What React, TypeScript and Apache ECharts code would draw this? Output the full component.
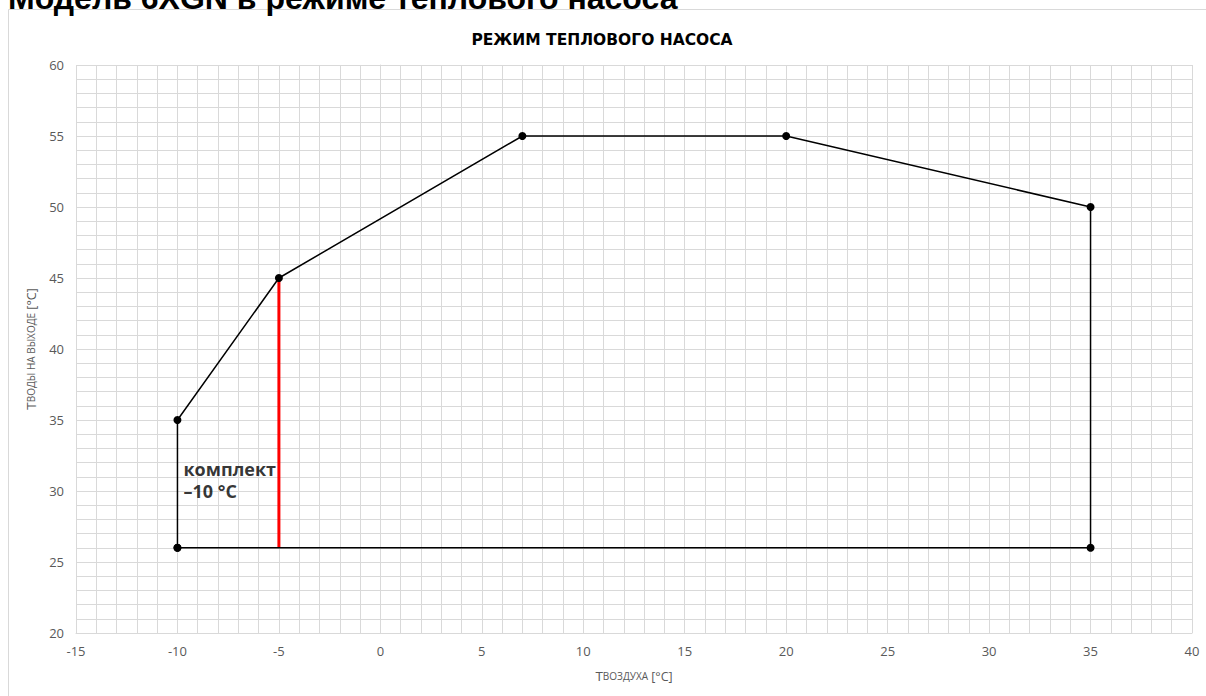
import React, { useEffect, useRef } from "react";
import * as echarts from "echarts";

const boundaryX = [-10, -10, -5, 7, 20, 35, 35, -10];
const boundaryY = [26, 35, 45, 55, 55, 50, 26, 26];
const kitX = [-5, -5];
const kitY = [26, 45];
const kitLabelPos = [-10, 30.8];
const kitLabel = "комплект\n–10 °C";
const pageTitle = "Модель 6XGN в режиме теплового насоса";
const chartTitle = "РЕЖИМ ТЕПЛОВОГО НАСОСА";
const labelStep = 5;

const FONT = "'Open Sans', 'Noto Sans', sans-serif";
const GRID = "#d9d9d9";
const LABEL = "#595959";

const every5 = (v: number) => (Math.round(v) % labelStep === 0 ? String(Math.round(v)) : "");

export default function App() {
  const ref = useRef<HTMLDivElement>(null);
  useEffect(() => {
    if (!ref.current) return;
    const chart = echarts.init(ref.current, undefined, { renderer: "svg" });
    const boundary = boundaryX.map((x, i) => [x, boundaryY[i]]);
    const kit = kitX.map((x, i) => [x, kitY[i]]);
    chart.setOption({
      animation: false,
      backgroundColor: "#ffffff",
      title: {
        text: chartTitle,
        left: 597,
        textAlign: "center",
        top: 27,
        textStyle: { fontFamily: "'DejaVu Sans', sans-serif", fontSize: 15.5, fontWeight: "bold", color: "#000" },
      },
      graphic: [
        {
          type: "rect",
          shape: { x: 8.5, y: 9.5, width: 1300, height: 800 },
          style: { fill: "none", stroke: GRID, lineWidth: 1 },
          silent: true,
        },
        {
          type: "text",
          x: 8,
          y: -2,
          style: {
            text: pageTitle,
            font: "bold 32px 'Liberation Sans', Arial, sans-serif",
            fill: "#000",
            verticalAlign: "middle",
            align: "left",
          },
        },
      ],
      grid: { left: 76, right: 14, top: 65, bottom: 63 },
      xAxis: {
        type: "value",
        min: -15,
        max: 40,
        interval: 1,
        name: "{a|Т}{b|ВОЗДУХА} [°C]",
        nameLocation: "middle",
        nameGap: 36,
        nameTextStyle: {
          color: LABEL,
          fontFamily: FONT,
          fontSize: 12.5,
          rich: {
            a: { fontSize: 13.5, color: LABEL, fontFamily: FONT },
            b: { fontSize: 10, color: LABEL, fontFamily: FONT },
          },
        },
        axisLine: { show: true, lineStyle: { color: GRID } },
        axisTick: { show: false },
        axisLabel: { color: LABEL, fontFamily: FONT, fontSize: 13, margin: 11, formatter: every5 },
        splitLine: { show: true, lineStyle: { color: GRID, width: 1 } },
      },
      yAxis: {
        type: "value",
        min: 20,
        max: 60,
        interval: 1,
        name: "{a|Т}{b|ВОДЫ НА ВЫХОДЕ} [°C]",
        nameLocation: "middle",
        nameGap: 35,
        nameRotate: 90,
        nameTextStyle: {
          color: LABEL,
          fontFamily: FONT,
          fontSize: 12.5,
          rich: {
            a: { fontSize: 13.5, color: LABEL, fontFamily: FONT },
            b: { fontSize: 10, color: LABEL, fontFamily: FONT },
          },
        },
        axisLine: { show: true, lineStyle: { color: GRID } },
        axisTick: { show: false },
        axisLabel: { color: LABEL, fontFamily: FONT, fontSize: 13, margin: 12, formatter: every5 },
        splitLine: { show: true, lineStyle: { color: GRID, width: 1 } },
      },
      series: [
        {
          type: "line",
          data: boundary,
          symbol: "circle",
          symbolSize: 8,
          lineStyle: { color: "#000", width: 1.5 },
          itemStyle: { color: "#000" },
          z: 3,
        },
        {
          type: "line",
          data: kit,
          symbol: "none",
          lineStyle: { color: "#ff0000", width: 3 },
          z: 2,
        },
        {
          type: "scatter",
          data: [kitLabelPos],
          symbolSize: 0,
          label: {
            show: true,
            position: "right",
            distance: 6,
            formatter: kitLabel,
            fontFamily: FONT,
            fontSize: 18,
            fontWeight: "bold",
            color: "#000",
            lineHeight: 22,
            align: "left",
          },
          z: 4,
        },
      ],
    });
    return () => chart.dispose();
  }, []);
  return (
    <div
      ref={ref}
      style={{ position: "fixed", left: 0, top: 0, width: 1206, height: 696 }}
    />
  );
}
